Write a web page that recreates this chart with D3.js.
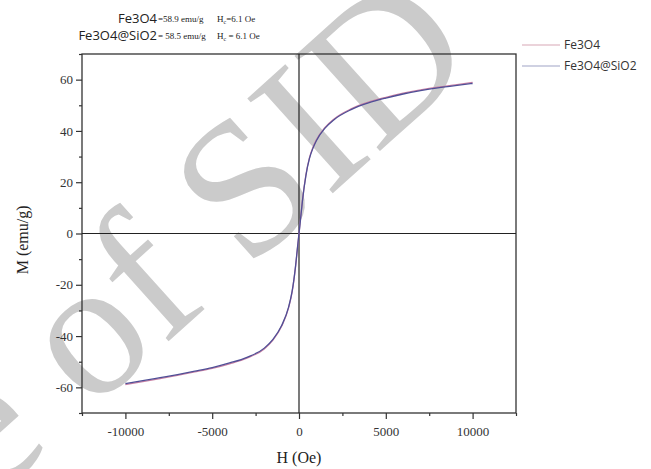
<!DOCTYPE html>
<html>
<head>
<meta charset="utf-8">
<script src="https://cdn.jsdelivr.net/npm/d3@7"></script>
<style>
  body { margin: 0; background: #fff; }
  svg { display: block; }
</style>
</head>
<body>
<svg id="chart" width="651" height="469"></svg>
<script>
// field values (Oe) and magnetisation (emu/g)
var fieldH = [-10000, -9000, -8000, -7000, -6000, -5000, -4000, -3000, -2000, -1500, -1000, -600, -400, -200, -100, 0,
              100, 200, 400, 600, 800, 1000, 1500, 2000, 3000, 4000, 5000, 6000, 7000, 8000, 9000, 10000];
var magFe3O4 = [-58.9, -57.8, -56.6, -55.3, -54.0, -52.6, -50.8, -48.6, -45.0, -41.6, -36.2, -29.0, -23.0, -13.0, -6.5, 0,
                6.5, 13.0, 23.0, 29.5, 33.5, 36.5, 41.4, 44.6, 48.6, 51.2, 53.1, 54.7, 56.0, 57.1, 58.0, 58.9];
var magFe3O4SiO2 = [-58.5, -57.4, -56.2, -55.0, -53.7, -52.3, -50.5, -48.3, -44.7, -41.3, -35.9, -28.7, -22.7, -12.8, -6.3, 0,
                    6.3, 12.8, 22.7, 29.2, 33.2, 36.2, 41.1, 44.3, 48.3, 50.9, 52.8, 54.4, 55.7, 56.8, 57.7, 58.5];
var seriesNames = ['Fe3O4', 'Fe3O4@SiO2'];
var seriesColors = ['#c77fa3', '#4f4f96'];
var legendColors = ['#d8a7b6', '#9fa3c6'];
var xTicks = [-10000, -5000, 0, 5000, 10000];
var yTicks = [-60, -40, -20, 0, 20, 40, 60];

var svg = d3.select('#chart');
var plotL = 82, plotR = 516, plotT = 54, plotB = 413;

var x = d3.scaleLinear().domain([-12500, 12500]).range([plotL, plotR]);
var y = d3.scaleLinear().domain([-70, 70]).range([plotB, plotT]);

// watermark
var wm = svg.append('g')
    .attr('transform', 'translate(90,412) rotate(-42)')
    .style('font-family', 'Liberation Serif, serif')
    .style('font-size', '195px')
    .style('fill', '#cbcbcb');
wm.append('text').attr('text-anchor', 'end').attr('xml:space', 'preserve').text('Archive ');
wm.append('text').text('of SID');

// header text
var header = svg.append('g')
    .style('font-size', '9px')
    .style('font-family', 'Liberation Serif, serif')
    .style('fill', '#222');

header.append('text').attr('x', 157).attr('y', 23).attr('text-anchor', 'end')
    .style('font-family', 'Open Sans, sans-serif').style('font-size', '13px').text('Fe3O4');
header.append('text').attr('x', 158).attr('y', 22).text('=58.9 emu/g');
header.append('text').attr('x', 217).attr('y', 22).html('H<tspan dy="2" font-size="6">c</tspan><tspan dy="-2">=6.1 Oe</tspan>');

header.append('text').attr('x', 157).attr('y', 40).attr('text-anchor', 'end')
    .style('font-family', 'Open Sans, sans-serif').style('font-size', '13px').text('Fe3O4@SiO2');
header.append('text').attr('x', 158).attr('y', 39).text('= 58.5 emu/g');
header.append('text').attr('x', 217).attr('y', 39).html('H<tspan dy="2" font-size="6">c</tspan><tspan dy="-2"> = 6.1 Oe</tspan>');

// frame
svg.append('rect')
    .attr('x', plotL).attr('y', plotT)
    .attr('width', plotR - plotL).attr('height', plotB - plotT)
    .attr('fill', 'none').attr('stroke', '#333').attr('stroke-width', 1.3);

// zero lines
svg.append('line').attr('x1', plotL).attr('x2', plotR).attr('y1', y(0)).attr('y2', y(0))
    .attr('stroke', '#222').attr('stroke-width', 1.2);
svg.append('line').attr('x1', x(0)).attr('x2', x(0)).attr('y1', plotT).attr('y2', plotB)
    .attr('stroke', '#222').attr('stroke-width', 1.2);

// axes
var fmt = function(d) { return String(d); };
var xAxis = d3.axisBottom(x).tickValues(xTicks).tickFormat(fmt).tickSize(6).tickPadding(8);
var xMinor = d3.axisBottom(x).tickValues([-12500, -7500, -2500, 2500, 7500, 12500]).tickFormat('').tickSize(3);
var yAxis = d3.axisLeft(y).tickValues(yTicks).tickFormat(fmt).tickSize(6).tickPadding(3);
var yMinor = d3.axisLeft(y).tickValues([-70, -50, -30, -10, 10, 30, 50, 70]).tickFormat('').tickSize(3);

function styleAxis(g) {
    g.select('.domain').remove();
    g.selectAll('line').attr('stroke', '#333').attr('stroke-width', 1.2);
    g.selectAll('text')
        .style('font-family', 'Liberation Serif, serif')
        .style('font-size', '13px')
        .attr('fill', '#333');
}

svg.append('g').attr('transform', 'translate(0,' + plotB + ')').call(xAxis).call(styleAxis);
svg.append('g').attr('transform', 'translate(0,' + plotB + ')').call(xMinor).call(styleAxis);
svg.append('g').attr('transform', 'translate(' + plotL + ',0)').call(yAxis).call(styleAxis);
svg.append('g').attr('transform', 'translate(' + plotL + ',0)').call(yMinor).call(styleAxis);

// axis titles
svg.append('text')
    .attr('x', x(0)).attr('y', 463)
    .attr('text-anchor', 'middle')
    .style('font-family', 'Liberation Serif, serif')
    .style('font-size', '16px')
    .attr('fill', '#222')
    .text('H (Oe)');

svg.append('text')
    .attr('transform', 'translate(28,' + y(-2.5) + ') rotate(-90)')
    .attr('text-anchor', 'middle')
    .style('font-family', 'Liberation Serif, serif')
    .style('font-size', '16px')
    .attr('fill', '#222')
    .text('M (emu/g)');

// curves
var line = d3.line()
    .x(function(d) { return x(d[0]); })
    .y(function(d) { return y(d[1]); })
    .curve(d3.curveMonotoneX);

var allSeries = [magFe3O4, magFe3O4SiO2];
allSeries.forEach(function(vals, i) {
    svg.append('path')
        .datum(fieldH.map(function(h, j) { return [h, vals[j]]; }))
        .attr('fill', 'none')
        .attr('stroke', seriesColors[i])
        .attr('stroke-width', 1.3)
        .attr('d', line);
});

// legend
var legend = svg.append('g');
seriesNames.forEach(function(name, i) {
    var ly = 45 + i * 21;
    legend.append('line')
        .attr('x1', 522).attr('x2', 560).attr('y1', ly).attr('y2', ly)
        .attr('stroke', legendColors[i]).attr('stroke-width', 1.2);
    legend.append('text')
        .attr('x', 564).attr('y', ly + 4)
        .style('font-family', 'Open Sans, sans-serif')
        .style('font-size', '12px')
        .attr('fill', '#333')
        .text(name);
});
</script>
</body>
</html>
